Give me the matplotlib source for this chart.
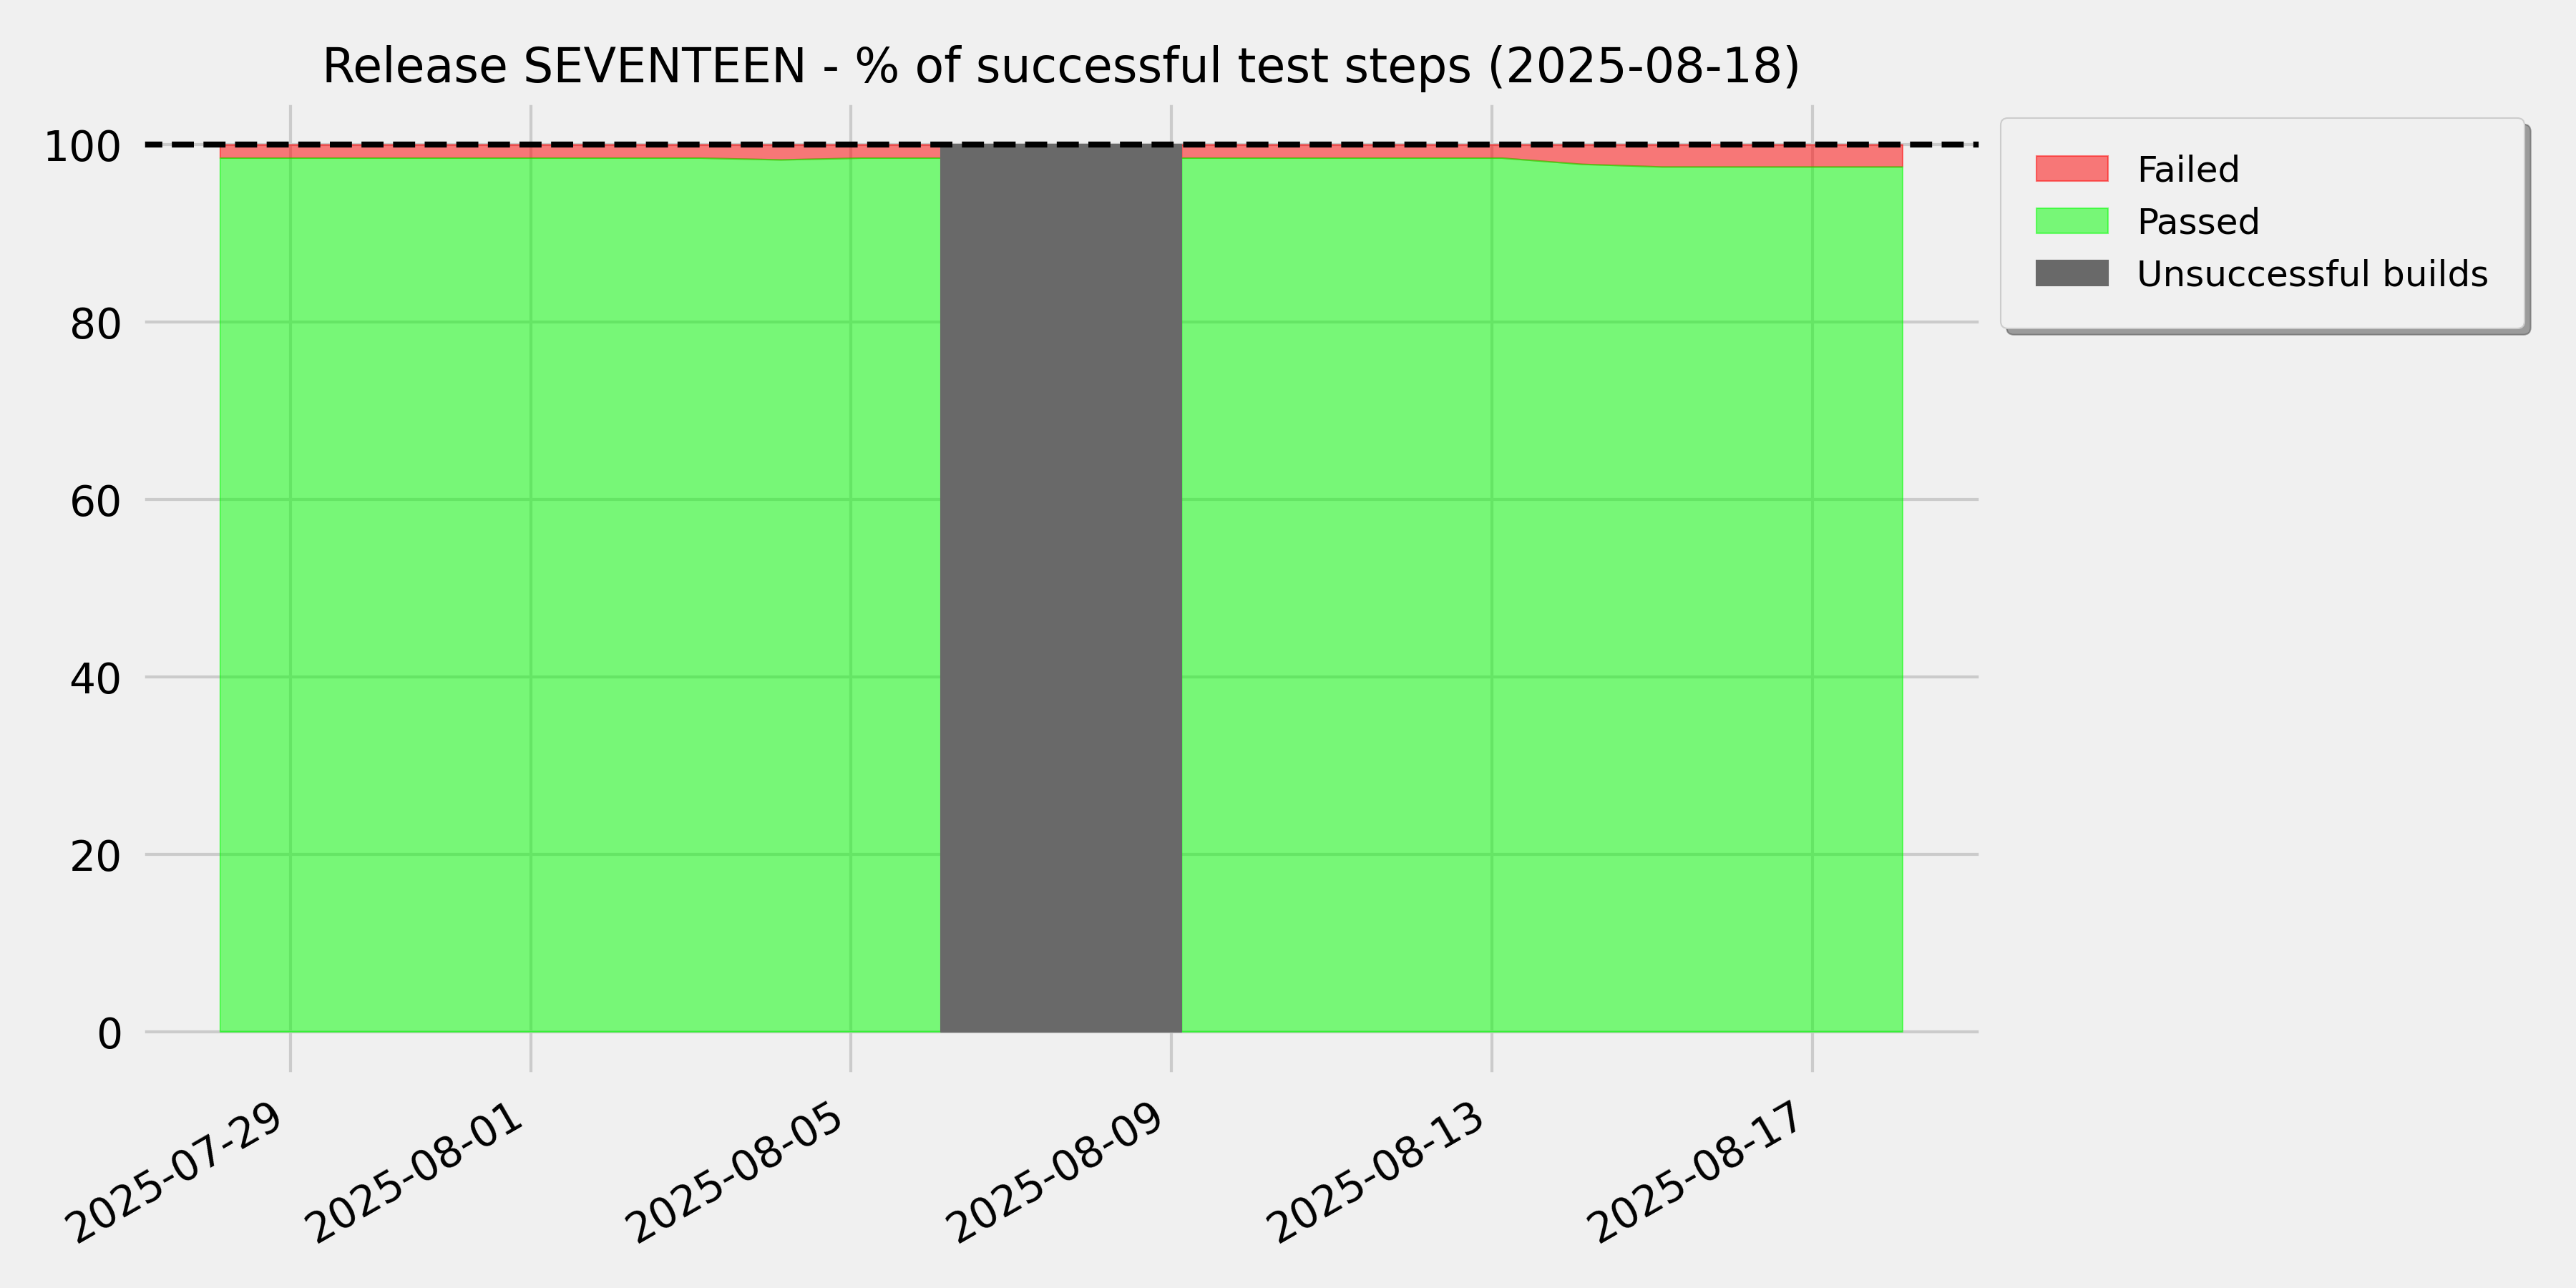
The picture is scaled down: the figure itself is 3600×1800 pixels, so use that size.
import numpy as np
import pandas as pd
import matplotlib
matplotlib.use("Agg")
import matplotlib.pyplot as plt
import matplotlib.dates as mdates

# daily results, build timestamps ~03:00
dates = pd.date_range("2025-07-28 03:00", "2025-08-18 03:00", freq="D")
passed_pct = [98.5, 98.5, 98.5, 98.5, 98.5, 98.5, 98.5, 98.3, 98.5, 98.5,
              np.nan, np.nan,
              98.5, 98.5, 98.5, 98.5, 98.5, 97.8, 97.5, 97.5, 97.5, 97.5]
unsuccessful = [False] * 9 + [True, True, True, True] + [False] * 9
release = "SEVENTEEN"
report_date = "2025-08-18"

plt.style.use("fivethirtyeight")

fig, ax = plt.subplots(figsize=(12, 6), dpi=300)
fig.patch.set_facecolor("#f0f0f0")

passed = np.array(passed_pct)
ax.fill_between(dates, passed, 100, color="red", alpha=0.5, label="Failed")
ax.fill_between(dates, 0, passed, color="lime", alpha=0.5, label="Passed")
ax.fill_between(dates, 0, 100, where=unsuccessful, color="dimgray",
                label="Unsuccessful builds")
ax.axhline(100, color="black", linestyle="--", linewidth=2)

ax.set_xlim(dates[0] - pd.Timedelta(days=1), dates[-1] + pd.Timedelta(days=1))
ax.set_ylim(-5, 105)
ax.xaxis.set_major_locator(mdates.DayLocator(bymonthday=[1, 5, 9, 13, 17, 21, 25, 29]))
ax.xaxis.set_major_formatter(mdates.DateFormatter("%Y-%m-%d"))
ax.tick_params(axis="both", labelsize=14, pad=6)

ax.set_title(f"Release {release} - % of successful test steps ({report_date})",
             fontsize=16)
ax.legend(loc="upper left", bbox_to_anchor=(1, 1), shadow=True, fontsize=12,
          borderpad=1.0)

fig.autofmt_xdate()
fig.subplots_adjust(left=0.0544, right=0.7697, bottom=0.1644, top=0.922)
fig.savefig("out.png", dpi=300, facecolor="#f0f0f0")
